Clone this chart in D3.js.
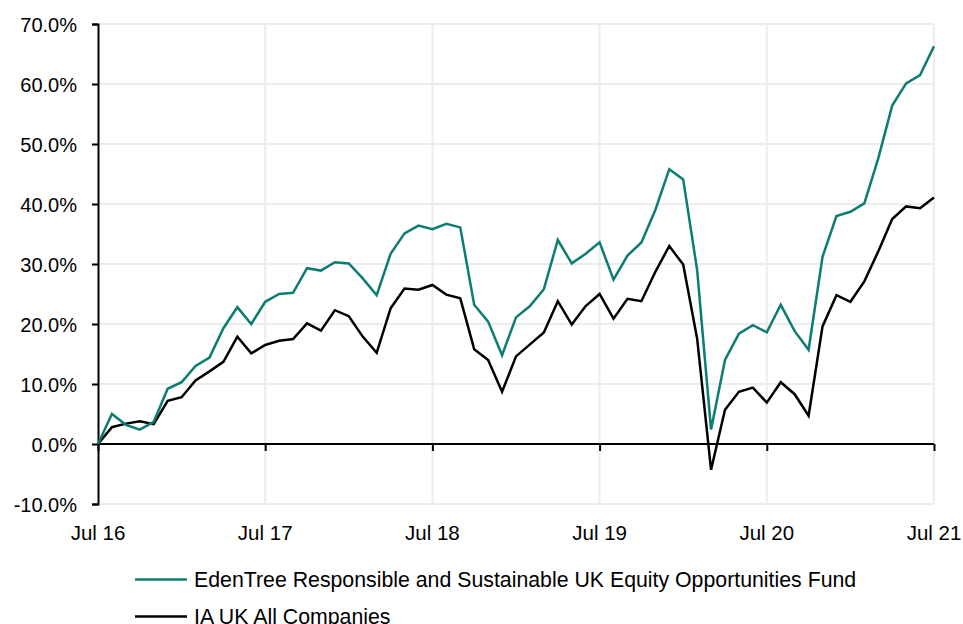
<!DOCTYPE html>
<html><head><meta charset="utf-8">
<script src="https://cdn.jsdelivr.net/npm/d3@7"></script>
<style>
html,body{margin:0;padding:0;background:#fff;}
svg{display:block;font-family:Arial,"Liberation Sans",sans-serif;}
</style></head>
<body><svg id="c" width="963" height="624"></svg>
<script>
const fundName = "EdenTree Responsible and Sustainable UK Equity Opportunities Fund";
const benchName = "IA UK All Companies";
const xTickLabels = ["Jul 16","Jul 17","Jul 18","Jul 19","Jul 20","Jul 21"];
const yTicks = [-10,0,10,20,30,40,50,60,70];
// monthly cumulative performance (%), Jul 16 .. Jul 21
const fundValues = [0,5.0,3.2,2.4,3.7,9.2,10.3,13.0,14.4,19.3,22.8,20.0,23.7,25.0,25.2,29.3,28.9,30.3,30.1,27.6,24.8,31.7,35.1,36.4,35.8,36.7,36.1,23.2,20.4,14.8,21.1,23.0,25.8,34.0,30.1,31.7,33.6,27.4,31.4,33.6,39.0,45.8,44.1,29.0,2.4,14.0,18.4,19.8,18.6,23.2,18.8,15.7,31.2,38.0,38.7,40.1,47.6,56.4,60.1,61.5,66.3];
const benchValues = [0,2.8,3.4,3.8,3.3,7.2,7.8,10.6,12.1,13.7,17.9,15.1,16.5,17.2,17.5,20.1,18.9,22.3,21.3,17.9,15.2,22.6,25.9,25.7,26.5,24.9,24.3,15.8,14.0,8.7,14.6,16.6,18.6,23.8,19.9,23.0,25.0,20.9,24.2,23.8,28.7,33.0,29.9,17.6,-4.3,5.7,8.7,9.4,6.9,10.3,8.3,4.7,19.6,24.8,23.7,27.1,32.1,37.5,39.6,39.3,41.1];

const svg = d3.select("#c");
const L = 98, R = 934, T = 24, B = 504;
const x = d3.scaleLinear().domain([0, 60]).range([L, R]);
const y = d3.scaleLinear().domain([-10, 70]).range([B, T]);
const grid = "#ececec";

// horizontal gridlines
svg.append("g").selectAll("line").data(yTicks).join("line")
  .attr("x1", L).attr("x2", R)
  .attr("y1", d => y(d)).attr("y2", d => y(d))
  .attr("stroke", grid).attr("stroke-width", 2);
// vertical gridlines
const yearIdx = [0,12,24,36,48,60];
svg.append("g").selectAll("line").data(yearIdx.slice(1)).join("line")
  .attr("x1", d => x(d)).attr("x2", d => x(d))
  .attr("y1", T).attr("y2", B)
  .attr("stroke", grid).attr("stroke-width", 2);

// y axis
const yAxis = d3.axisLeft(y).tickValues(yTicks).tickSize(6).tickFormat(d => d.toFixed(1) + "%");
const gy = svg.append("g").attr("transform", `translate(${L},0)`).call(yAxis);
gy.select(".domain").attr("stroke", "#000").attr("stroke-width", 2);
gy.selectAll(".tick line").attr("stroke", "#000").attr("stroke-width", 2);
gy.selectAll(".tick text").attr("font-size", 20).attr("fill", "#000")
  .attr("x", -21).attr("dy", "0.36em").attr("font-family", "Arial, 'Liberation Sans', sans-serif");

// zero line with ticks
const xAxis = d3.axisBottom(x).tickValues(yearIdx).tickSize(7).tickFormat("");
const gx = svg.append("g").attr("transform", `translate(0,${y(0)})`).call(xAxis);
gx.select(".domain").attr("stroke", "#000").attr("stroke-width", 2).attr("d", `M${L},0H${R}`);
gx.selectAll(".tick line").attr("stroke", "#000").attr("stroke-width", 2);

// x labels at bottom
svg.append("g").selectAll("text").data(yearIdx).join("text")
  .attr("x", d => x(d)).attr("y", 540)
  .attr("text-anchor", "middle").attr("font-size", 20.5).attr("fill", "#000")
  .text((d, i) => xTickLabels[i]);

// lines
const line = d3.line().x((d, i) => x(i)).y(d => y(d));
svg.append("path").datum(benchValues).attr("d", line)
  .attr("fill", "none").attr("stroke", "#000").attr("stroke-width", 2.5).attr("stroke-linejoin", "miter");
svg.append("path").datum(fundValues).attr("d", line)
  .attr("fill", "none").attr("stroke", "#0b7d72").attr("stroke-width", 2.5).attr("stroke-linejoin", "miter");

// legend
const legend = [{name: fundName, color: "#0b7d72"}, {name: benchName, color: "#000"}];
const lg = svg.append("g").selectAll("g").data(legend).join("g")
  .attr("transform", (d, i) => `translate(135,${579.5 + i * 37})`);
lg.append("line").attr("x1", 0).attr("x2", 52).attr("y1", 0).attr("y2", 0)
  .attr("stroke", d => d.color).attr("stroke-width", 2.5);
lg.append("text").attr("x", 59).attr("y", 7.5).attr("font-size", 21.3).attr("fill", "#000")
  .text(d => d.name);
</script></body></html>
